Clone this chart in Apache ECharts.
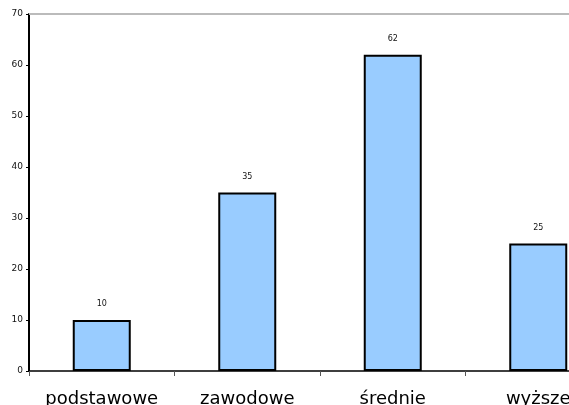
<!DOCTYPE html>
<html>
<head>
<meta charset="utf-8">
<script src="https://cdn.jsdelivr.net/npm/echarts@6/dist/echarts.min.js"></script>
<style>
  html, body { margin: 0; padding: 0; background: #fff; }
  #chart { width: 569px; height: 405px; }
</style>
</head>
<body>
<div id="chart"></div>
<script>
// Education level categories and respondent counts
const categories = ['podstawowe', 'zawodowe', 'średnie', 'wyższe'];
const values = [10, 35, 62, 25];
const yTicks = [0, 10, 20, 30, 40, 50, 60, 70];

const chart = echarts.init(document.getElementById('chart'));
chart.setOption({
  animation: false,
  backgroundColor: '#ffffff',
  // plot area runs past the right edge of the canvas
  grid: { left: 29, width: 582, top: 14, bottom: 34, containLabel: false, outerBoundsMode: 'none' },
  xAxis: {
    type: 'category',
    data: categories,
    axisLine: { show: true, lineStyle: { color: '#000', width: 1.5 } },
    axisTick: { show: true, alignWithLabel: false, length: 5, lineStyle: { color: '#555', width: 1 } },
    axisLabel: {
      color: '#000', fontSize: 18, fontFamily: 'DejaVu Sans', margin: 19, interval: 0
    },
    splitLine: { show: false }
  },
  yAxis: {
    type: 'value',
    min: yTicks[0],
    max: yTicks[yTicks.length - 1],
    interval: 10,
    axisLine: { show: true, lineStyle: { color: '#000', width: 2 } },
    axisTick: { show: true, length: 3, lineStyle: { color: '#000', width: 1 } },
    axisLabel: { color: '#111', fontSize: 9, fontFamily: 'DejaVu Sans', margin: 6 },
    splitLine: { show: false }
  },
  series: [{
    type: 'bar',
    data: values,
    barWidth: 58,
    itemStyle: { color: '#99ccff', borderColor: '#000', borderWidth: 2 },
    label: {
      show: true, position: 'top', distance: 12,
      color: '#111', fontSize: 8, fontFamily: 'DejaVu Sans'
    },
    markLine: {
      silent: true, symbol: 'none', label: { show: false },
      lineStyle: { color: '#bbbbbb', width: 2, type: 'solid' },
      data: [{ yAxis: yTicks[yTicks.length - 1] }]
    }
  }]
});
</script>
</body>
</html>
